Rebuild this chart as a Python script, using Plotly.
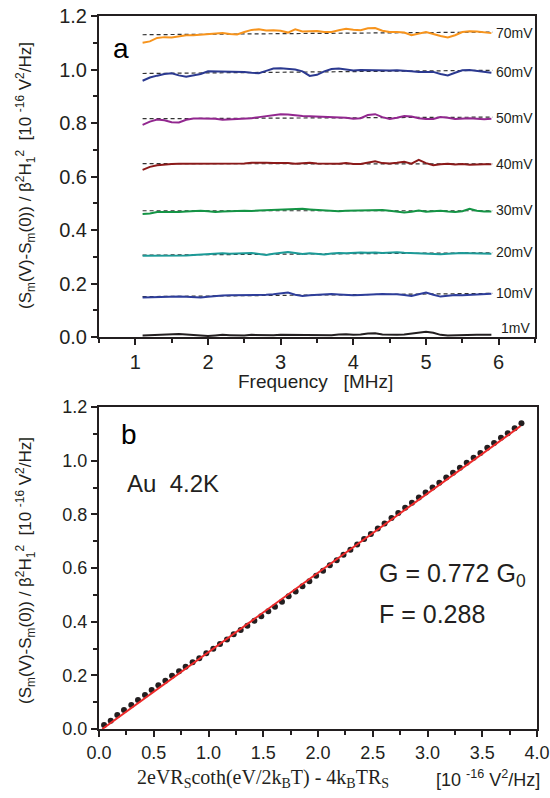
import plotly.graph_objects as go

# ---------------- Panel a data ----------------
freq = [1.1, 1.2, 1.3, 1.4, 1.5, 1.6, 1.7, 1.8, 1.9, 2.0, 2.1, 2.2, 2.3, 2.4, 2.5, 2.6, 2.7, 2.8, 2.9, 3.0,
        3.1, 3.2, 3.3, 3.4, 3.5, 3.6, 3.7, 3.8, 3.9, 4.0, 4.1, 4.2, 4.3, 4.4, 4.5, 4.6, 4.7, 4.8, 4.9, 5.0,
        5.1, 5.2, 5.3, 5.4, 5.5, 5.6, 5.7, 5.8, 5.9]

s70 = [1.100, 1.105, 1.118, 1.121, 1.120, 1.125, 1.128, 1.128, 1.130, 1.132, 1.133, 1.136, 1.133, 1.131, 1.140,
       1.148, 1.150, 1.146, 1.147, 1.145, 1.138, 1.150, 1.142, 1.143, 1.144, 1.140, 1.140, 1.147, 1.152, 1.149,
       1.147, 1.154, 1.155, 1.145, 1.140, 1.140, 1.138, 1.128, 1.135, 1.140, 1.133, 1.125, 1.120, 1.128, 1.140,
       1.143, 1.142, 1.140, 1.136]
s60 = [0.958, 0.970, 0.977, 0.983, 0.986, 0.978, 0.973, 0.979, 0.983, 0.993, 0.993, 0.991, 0.993, 0.992, 0.991,
       0.988, 0.986, 0.995, 1.004, 1.005, 1.002, 1.000, 0.993, 0.976, 0.980, 0.993, 1.002, 1.004, 1.000, 0.996,
       0.998, 0.997, 0.998, 0.996, 0.996, 0.997, 0.994, 0.993, 0.991, 0.990, 0.991, 0.983, 0.978, 0.988, 0.997,
       0.998, 0.995, 0.993, 0.988]
s50 = [0.793, 0.805, 0.813, 0.810, 0.803, 0.802, 0.812, 0.817, 0.817, 0.817, 0.816, 0.812, 0.813, 0.816, 0.815,
       0.818, 0.822, 0.825, 0.829, 0.833, 0.832, 0.828, 0.826, 0.825, 0.824, 0.823, 0.823, 0.821, 0.820, 0.816,
       0.818, 0.830, 0.833, 0.822, 0.815, 0.820, 0.826, 0.824, 0.818, 0.815, 0.815, 0.822, 0.820, 0.815, 0.816,
       0.818, 0.816, 0.814, 0.816]
s40 = [0.625, 0.636, 0.642, 0.645, 0.647, 0.648, 0.648, 0.649, 0.650, 0.649, 0.649, 0.650, 0.648, 0.648, 0.649,
       0.651, 0.652, 0.651, 0.650, 0.651, 0.650, 0.648, 0.650, 0.651, 0.649, 0.648, 0.647, 0.648, 0.650, 0.647,
       0.647, 0.652, 0.657, 0.650, 0.649, 0.651, 0.655, 0.648, 0.662, 0.650, 0.642, 0.646, 0.648, 0.645, 0.647,
       0.644, 0.646, 0.646, 0.646]
s30 = [0.460, 0.462, 0.467, 0.467, 0.466, 0.467, 0.469, 0.471, 0.472, 0.470, 0.467, 0.469, 0.471, 0.471, 0.472,
       0.471, 0.473, 0.474, 0.474, 0.474, 0.476, 0.478, 0.479, 0.477, 0.475, 0.474, 0.472, 0.470, 0.472, 0.473,
       0.473, 0.474, 0.475, 0.475, 0.472, 0.469, 0.465, 0.468, 0.473, 0.468, 0.470, 0.472, 0.469, 0.467, 0.470,
       0.479, 0.472, 0.469, 0.469]
s20 = [0.304, 0.304, 0.304, 0.304, 0.305, 0.305, 0.305, 0.307, 0.309, 0.310, 0.312, 0.313, 0.311, 0.311, 0.313,
       0.314, 0.310, 0.307, 0.311, 0.315, 0.318, 0.314, 0.310, 0.313, 0.311, 0.308, 0.312, 0.314, 0.313, 0.315,
       0.316, 0.315, 0.316, 0.314, 0.316, 0.317, 0.315, 0.314, 0.314, 0.313, 0.311, 0.309, 0.311, 0.313, 0.314,
       0.313, 0.313, 0.312, 0.311]
s10 = [0.148, 0.149, 0.150, 0.151, 0.151, 0.151, 0.150, 0.149, 0.148, 0.150, 0.153, 0.155, 0.156, 0.156, 0.157,
       0.157, 0.157, 0.158, 0.160, 0.163, 0.166, 0.158, 0.153, 0.156, 0.158, 0.160, 0.161, 0.159, 0.157, 0.156,
       0.157, 0.159, 0.161, 0.161, 0.160, 0.160, 0.157, 0.153, 0.160, 0.166, 0.158, 0.151, 0.154, 0.157, 0.156,
       0.157, 0.159, 0.160, 0.162]
s1 = [0.006, 0.007, 0.008, 0.009, 0.010, 0.011, 0.009, 0.007, 0.005, 0.004, 0.006, 0.008, 0.007, 0.006, 0.006,
      0.008, 0.007, 0.006, 0.007, 0.008, 0.008, 0.007, 0.006, 0.007, 0.008, 0.008, 0.007, 0.009, 0.010, 0.008,
      0.009, 0.013, 0.014, 0.009, 0.008, 0.008, 0.009, 0.012, 0.017, 0.020, 0.016, 0.008, 0.006, 0.007, 0.007,
      0.008, 0.008, 0.008, 0.008]

series_names = ["70mV", "60mV", "50mV", "40mV", "30mV", "20mV", "10mV", "1mV"]
series_values = [s70, s60, s50, s40, s30, s20, s10, s1]
series_colors = ["#F7941D", "#2B3990", "#92278F", "#8B1A1A", "#149445", "#1C9A97", "#2E3E9A", "#231F20"]
# dashed guide lines: start / end values (from x=1.1 to 5.92)
dash_x = [1.1, 5.92]
dash_start = [1.130, 0.985, 0.816, 0.648, 0.472, 0.306, 0.151, None]
dash_end = [1.140, 0.997, 0.822, 0.647, 0.472, 0.315, 0.163, None]
label_y = [1.135, 0.990, 0.818, 0.648, 0.474, 0.319, 0.163, 0.032]
label_x = [5.93, 5.93, 5.93, 5.93, 5.93, 5.93, 5.93, 6.0]

# ---------------- Panel b data ----------------
bx = [0.046, 0.107, 0.167, 0.228, 0.295, 0.356, 0.420, 0.481, 0.542, 0.606, 0.667, 0.731, 0.791, 0.855, 0.916,
      0.980, 1.044, 1.105, 1.169, 1.230, 1.294, 1.355, 1.419, 1.482, 1.546, 1.607, 1.671, 1.732, 1.796, 1.858,
      1.921, 1.983, 2.046, 2.108, 2.171, 2.233, 2.296, 2.358, 2.421, 2.483, 2.546, 2.608, 2.671, 2.733, 2.796,
      2.858, 2.921, 2.983, 3.046, 3.108, 3.171, 3.233, 3.296, 3.358, 3.421, 3.483, 3.546, 3.608, 3.671, 3.733,
      3.796, 3.858]
by = [0.015, 0.031, 0.052, 0.071, 0.089, 0.108, 0.127, 0.145, 0.163, 0.180, 0.198, 0.215, 0.232, 0.249, 0.264,
      0.282, 0.299, 0.317, 0.334, 0.353, 0.369, 0.385, 0.403, 0.420, 0.439, 0.456, 0.474, 0.495, 0.512, 0.532,
      0.551, 0.571, 0.590, 0.610, 0.629, 0.649, 0.668, 0.688, 0.708, 0.727, 0.747, 0.766, 0.786, 0.805, 0.825,
      0.843, 0.863, 0.881, 0.900, 0.918, 0.937, 0.955, 0.974, 0.992, 1.011, 1.029, 1.048, 1.066, 1.085, 1.102,
      1.121, 1.139]
fit_x = [0.03, 3.85]
fit_y = [0.0, 1.129]

SANS = "Liberation Sans, Arial, sans-serif"
SERIF = "Liberation Serif, Times New Roman, serif"
INK = "#231F20"

fig = go.Figure()

for name, vals, col, d0, d1 in zip(series_names, series_values, series_colors, dash_start, dash_end):
    if d0 is not None:
        fig.add_trace(go.Scatter(x=dash_x, y=[d0, d1], mode="lines", xaxis="x", yaxis="y",
                                 line=dict(color="#333333", width=1.2, dash="4px,3px"), showlegend=False,
                                 hoverinfo="skip"))
    fig.add_trace(go.Scatter(x=freq, y=vals, mode="lines", name=name, xaxis="x", yaxis="y",
                             line=dict(color=col, width=2), showlegend=False))

fig.add_trace(go.Scatter(x=bx, y=by, mode="markers", xaxis="x2", yaxis="y2",
                         marker=dict(color=INK, size=6), showlegend=False))
fig.add_trace(go.Scatter(x=fit_x, y=fit_y, mode="lines", xaxis="x2", yaxis="y2",
                         line=dict(color="#EE2A2A", width=2), showlegend=False))

W, H = 550, 798
L, R = 99, 535
top_a, bot_a = 16, 337
top_b, bot_b = 407, 729

axis_common = dict(showline=True, linewidth=2, linecolor=INK, mirror=True, showgrid=False, zeroline=False,
                   ticks="outside", ticklen=6, tickwidth=2, tickcolor=INK, automargin=False)

def ann(x, y, text, size, family=SANS, xref="paper", yref="paper", xanchor="center", angle=0, color=INK):
    return dict(x=x, y=y, xref=xref, yref=yref, text=text, showarrow=False, xanchor=xanchor,
                yanchor="middle", textangle=angle, font=dict(family=family, size=size, color=color))

annotations = [ann(lx, ly, name, 14, xref="x", yref="y", xanchor="left")
               for name, lx, ly in zip(series_names, label_x, label_y)]

ytitle = ("(S<sub>m</sub>(V)-S<sub>m</sub>(0)) / β<sup>2</sup>H<sub>1</sub><sup>2</sup>  "
          "[10 <sup>-16</sup> V<sup>2</sup>/Hz]")

annotations += [
    ann(0.80, 1.077, "a", 28, xref="x", yref="y", color="black"),
    ann(0.27, 1.096, "b", 28, xref="x2", yref="y2", color="black"),
    ann(0.237, 0.915, "Au  4.2K", 24, xref="x2", yref="y2", xanchor="left"),
    ann(2.54, 0.574, "G = 0.772 G<sub>0</sub>", 25, xref="x2", yref="y2", xanchor="left"),
    ann(2.54, 0.43, "F = 0.288", 25, xref="x2", yref="y2", xanchor="left"),
    ann(25 / W, 1 - 176 / H, ytitle, 17, angle=-90),
    ann(25 / W, 1 - 571 / H, ytitle, 17, angle=-90),
    ann(315 / W, 1 - 381 / H, "Frequency   [MHz]", 19),
    ann(263 / W, 1 - 778 / H,
        "2eVR<sub>S</sub>coth(eV/2k<sub>B</sub>T) - 4k<sub>B</sub>TR<sub>S</sub>", 20, family=SERIF),
    ann(488 / W, 1 - 778 / H, "[10 <sup>-16</sup> V<sup>2</sup>/Hz]", 18),
]

fig.update_layout(
    width=W, height=H, margin=dict(l=0, r=0, t=0, b=0, autoexpand=False),
    paper_bgcolor="white", plot_bgcolor="white",
    xaxis=dict(domain=[L / W, R / W], range=[0.5, 6.5], dtick=1, tick0=0, anchor="y",
               minor=dict(dtick=0.5, ticklen=4, tickwidth=1.5, tickcolor=INK, ticks="outside"),
               tickfont=dict(family=SANS, size=20, color=INK), **axis_common),
    yaxis=dict(domain=[1 - bot_a / H, 1 - top_a / H], range=[0, 1.2], dtick=0.2, tick0=0, tickformat=".1f",
               anchor="x",
               minor=dict(dtick=0.1, ticklen=4, tickwidth=1.5, tickcolor=INK, ticks="outside"),
               tickfont=dict(family=SANS, size=20, color=INK), **axis_common),
    xaxis2=dict(domain=[L / W, (R + 2) / W], range=[0, 4], dtick=0.5, tick0=0, tickformat=".1f", anchor="y2",
                minor=dict(dtick=0.25, ticklen=4, tickwidth=1.5, tickcolor=INK, ticks="outside"),
                tickfont=dict(family=SANS, size=18, color=INK), **axis_common),
    yaxis2=dict(domain=[1 - bot_b / H, 1 - top_b / H], range=[0, 1.2], dtick=0.2, tick0=0, tickformat=".1f",
                anchor="x2",
                minor=dict(dtick=0.1, ticklen=4, tickwidth=1.5, tickcolor=INK, ticks="outside"),
                tickfont=dict(family=SANS, size=18, color=INK), **axis_common),
    annotations=annotations,
)

fig.write_html("out.html", config={"displayModeBar": False},
               post_script="document.body.style.margin='0';document.body.style.overflow='hidden';")
